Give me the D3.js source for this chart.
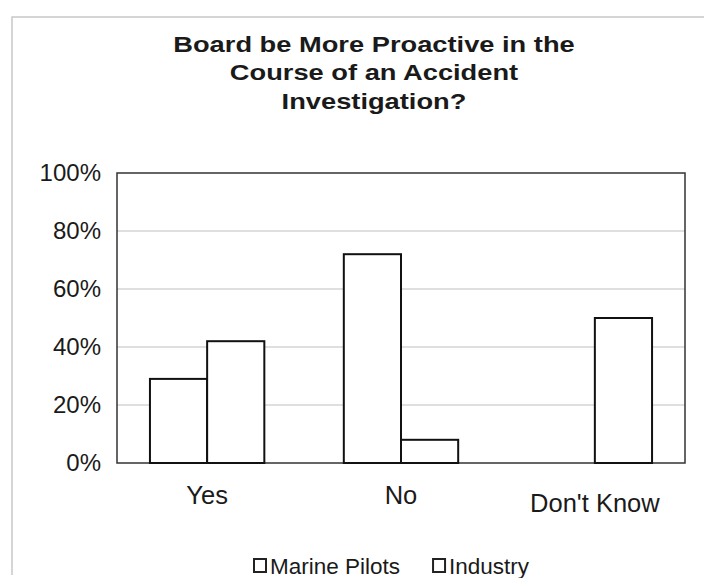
<!DOCTYPE html>
<html><head><meta charset="utf-8">
<script src="https://cdn.jsdelivr.net/npm/d3@7"></script>
<style>body{margin:0;background:#fff}svg{display:block}text{font-family:"Liberation Sans",Arial,sans-serif;fill:#1a1a1a}</style>
</head><body><svg id="c" width="704" height="578"></svg>
<script>
const titleLines = ["Board be More Proactive in the", "Course of an Accident", "Investigation?"];
const categories = ["Yes", "No", "Don't Know"];
const seriesNames = ["Marine Pilots", "Industry"];
const marinePilots = [29, 72, 0];
const industry = [42, 8, 50];
const yTicks = [0, 20, 40, 60, 80, 100];

const svg = d3.select("#c");
const m = {l:117, r:685, t:173, b:463};
const x = d3.scaleBand().domain(categories).range([m.l, m.r]).paddingInner(0.41).paddingOuter(0.17);
const xs = d3.scaleBand().domain(seriesNames).range([0, x.bandwidth()]);
const y = d3.scaleLinear().domain([0,100]).range([m.b, m.t]);
const FF = "'Liberation Sans',Arial,sans-serif";

// outer frame (faint)
svg.append("path").attr("d","M12,575 L12,17 L704,17").attr("fill","none").attr("stroke","#c8c8c8").attr("stroke-width",1.5);

// title
svg.append("g").attr("transform","translate(374,0) scale(1.24,1)")
  .append("text").attr("x",0).attr("y",52).attr("text-anchor","middle")
  .style("font-weight","bold").style("font-size","22px")
  .selectAll("tspan").data(titleLines).join("tspan").attr("x",0).attr("dy",(d,i)=>i?28.5:0).text(d=>d);

// gridlines
svg.append("g").selectAll("line").data(yTicks.filter(d=>d>0&&d<100)).join("line")
  .attr("x1",m.l).attr("x2",m.r).attr("y1",d=>y(d)).attr("y2",d=>y(d))
  .attr("stroke","#d4d4d4").attr("stroke-width",1.5);

// y axis labels
const ya = svg.append("g").attr("transform",`translate(${m.l},0)`)
  .call(d3.axisLeft(y).tickValues(yTicks).tickFormat(d=>d+"%").tickSize(0).tickPadding(16));
ya.select(".domain").remove();
ya.selectAll("text").style("font-size","24px").style("font-family",FF).attr("fill","#1a1a1a");

// plot border
svg.append("rect").attr("x",m.l).attr("y",m.t).attr("width",m.r-m.l).attr("height",m.b-m.t)
  .attr("fill","none").attr("stroke","#333").attr("stroke-width",1.5);

// bars
const data = categories.flatMap((c,i)=>[
  {c, s:seriesNames[0], v:marinePilots[i]},
  {c, s:seriesNames[1], v:industry[i]}]).filter(d=>d.v>0);
svg.append("g").selectAll("rect").data(data).join("rect")
  .attr("x",d=>x(d.c)+xs(d.s)).attr("width",xs.bandwidth())
  .attr("y",d=>y(d.v)).attr("height",d=>y(0)-y(d.v))
  .attr("fill","#fff").attr("stroke","#111").attr("stroke-width",2);

// x axis labels
const xa = svg.append("g").attr("transform",`translate(0,${m.b})`)
  .call(d3.axisBottom(x).tickSize(0).tickPadding(23));
xa.select(".domain").remove();
xa.selectAll("text").style("font-size","25.5px").style("font-family",FF).attr("fill","#1a1a1a")
  .attr("dy",(d)=>d==="Don't Know"?"1.02em":"0.71em");

// legend
const lg = svg.append("g").attr("transform","translate(253,574)");
let off = 0;
seriesNames.forEach((n,i)=>{
  const g = lg.append("g").attr("transform",`translate(${off},0)`);
  g.append("rect").attr("x",1).attr("y",-15).attr("width",12).attr("height",13).attr("fill","#fff").attr("stroke","#222").attr("stroke-width",2);
  const t = g.append("text").attr("x",17).attr("y",0).style("font-size","22.5px").text(n);
  off += 17 + t.node().getComputedTextLength() + 32;
});
</script></body></html>
